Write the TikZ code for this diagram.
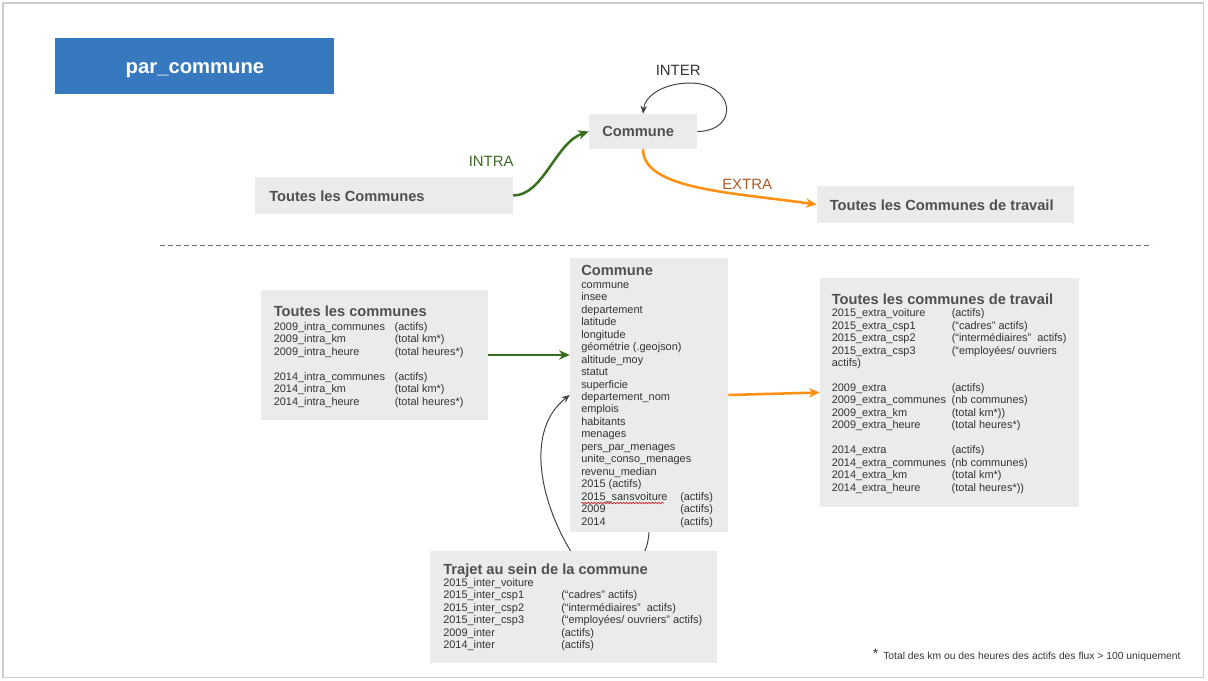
\documentclass[tikz,border=0pt]{standalone}
\usepackage{fontspec}
\setmainfont{Liberation Sans}
\usetikzlibrary{arrows.meta,fit,decorations.pathmorphing}
\definecolor{boxgray}{HTML}{EBEBEB}
\definecolor{bluebox}{HTML}{3779BE}
\definecolor{hdgray}{HTML}{505050}
\definecolor{txtgray}{HTML}{333333}
\definecolor{flowgreen}{HTML}{38701F}
\definecolor{floworange}{HTML}{FF9012}
\definecolor{extrabrown}{HTML}{A65A26}
\definecolor{intragreen}{HTML}{3D6B27}
\definecolor{loopgray}{HTML}{444444}
\newlength\colwd
\newcommand\twoc[2]{\makebox[\colwd][l]{#1}#2}
\begin{document}
\begin{tikzpicture}[x=0.75pt,y=-0.75pt,
  box/.style={fill=boxgray, draw=none, inner sep=0pt},
  hd/.style={font=\fontsize{11}{13}\selectfont\bfseries, text=hdgray, inner sep=0pt, anchor=base west},
  bd/.style={font=\fontsize{8.2}{9.35}\selectfont, text=txtgray, inner sep=0pt, anchor=base west},
  lbl/.style={font=\fontsize{11.2}{13}\selectfont, inner sep=0pt, anchor=base west},
  flow/.style={line width=1.9pt, -{Stealth[length=8pt,width=7pt,inset=2.5pt]}},
  thinloop/.style={line width=0.75pt, draw=loopgray, -{Stealth[length=6pt,width=5pt,inset=2pt]}},
]
\useasboundingbox (0,0) rectangle (1208,681);
% slide frame
\draw[gray!40, line width=0.8pt] (3,3) rectangle (1203.5,677.5);

% ---------- top part ----------
\node[box, fill=bluebox, fit={(55,38) (334,94)}] (title) {};
\node[font=\fontsize{15.2}{18}\selectfont\bfseries, text=white, inner sep=0pt, anchor=base] (titletxt) at (195,74) {par\_commune};

\node[box, fit={(589,114) (697,149)}] (comT) {};
\node[hd] (comTt) at (602,136.5) {Commune};
\node[box, fit={(255,177) (513,214)}] (allT) {};
\node[hd] (allTt) at (269,201.5) {Toutes les Communes};
\node[box, fit={(817,186) (1074,223)}] (travT) {};
\node[hd] (travTt) at (829.5,210.5) {Toutes les Communes de travail};

\node[lbl, text=intragreen] (intra) at (468.5,167) {INTRA};
\node[lbl, text=extrabrown] (extra) at (722,190) {EXTRA};
\node[lbl, text=txtgray] (inter) at (655.5,76) {INTER};

\draw[flow, flowgreen] (allT.east) .. controls +(30,0) and +(-33,11) .. (comT.west);
\draw[flow, floworange] (comT.south) .. controls +(0,40) and +(-85,-12) .. (travT.west);
\draw[thinloop] (comT.east) .. controls (740,131) and (735,83) .. (690,83)
   .. controls (665,83) and (645,95) .. (comT.north);

% dashed separator
\coordinate (dashL) at (160,246);
\coordinate (dashR) at (1152,246);
\draw[gray!80!black, line width=0.75pt, dash pattern=on 3.5pt off 2.5pt] (dashL) -- (dashR);

% ---------- bottom part ----------
\node[box, fit={(261,290) (488,420)}] (allB) {};
\node[hd] (allBh) at (273.5,317) {Toutes les communes};
\node[bd] (allBt) at (273.5,330.5) {\setlength\colwd{90.75pt}\begin{tabular}[t]{@{}l@{}}
\twoc{2009\_intra\_communes}{(actifs)}\\
\twoc{2009\_intra\_km}{(total km*)}\\
\twoc{2009\_intra\_heure}{(total heures*)}\\
\\
\twoc{2014\_intra\_communes}{(actifs)}\\
\twoc{2014\_intra\_km}{(total km*)}\\
\twoc{2014\_intra\_heure}{(total heures*)}
\end{tabular}};

\node[box, fit={(570,258) (728,532)}] (comB) {};
\node[hd] (comBh) at (581,275.5) {Commune};
\node[bd] (comBt) at (581,288.3) {\setlength\colwd{74.25pt}\begin{tabular}[t]{@{}l@{}}
commune\\
insee\\
departement\\
latitude\\
longitude\\
géométrie (.geojson)\\
altitude\_moy\\
statut\\
superficie\\
departement\_nom\\
emplois\\
habitants\\
menages\\
pers\_par\_menages\\
unite\_conso\_menages\\
revenu\_median\\
2015 (actifs)\\
\twoc{2015\_sansvoiture}{(actifs)}\\
\twoc{2009}{(actifs)}\\
\twoc{2014}{(actifs)}
\end{tabular}};
\coordinate (sqL) at (581,503);
\coordinate (sqR) at (664,503);
\draw[red!85!black, line width=0.4pt, decorate, decoration={snake, amplitude=0.6pt, segment length=2.4pt}] (sqL) -- (sqR);

\node[box, fit={(820,278) (1079,507)}] (travB) {};
\node[hd] (travBh) at (831.5,304.3) {Toutes les communes de travail};
\node[bd] (travBt) at (831.5,316.7) {\setlength\colwd{90pt}\begin{tabular}[t]{@{}l@{}}
\twoc{2015\_extra\_voiture}{(actifs)}\\
\twoc{2015\_extra\_csp1}{(“cadres” actifs)}\\
\twoc{2015\_extra\_csp2}{(“intermédiaires”\ \ actifs)}\\
\twoc{2015\_extra\_csp3}{(“employées/ ouvriers}\\
actifs)\\
\\
\twoc{2009\_extra}{(actifs)}\\
\twoc{2009\_extra\_communes}{(nb communes)}\\
\twoc{2009\_extra\_km}{(total km*))}\\
\twoc{2009\_extra\_heure}{(total heures*)}\\
\\
\twoc{2014\_extra}{(actifs)}\\
\twoc{2014\_extra\_communes}{(nb communes)}\\
\twoc{2014\_extra\_km}{(total km*)}\\
\twoc{2014\_extra\_heure}{(total heures*))}
\end{tabular}};

\draw[flow, flowgreen] (allB.east) -- (allB.east -| comB.west);
\draw[flow, floworange] (comB.east) -- (travB.west);
\draw[thinloop] (comB.south) .. controls (646,585) and (588,580) .. (570,550)
   .. controls (540,500) and (525,430) .. (comB.west);

\node[box, fit={(430,551) (717,663)}] (trajet) {};
\node[hd] (trajeth) at (443,574.5) {Trajet au sein de la commune};
\node[bd] (trajett) at (443,586.5) {\setlength\colwd{88.5pt}\begin{tabular}[t]{@{}l@{}}
2015\_inter\_voiture\\
\twoc{2015\_inter\_csp1}{(“cadres” actifs)}\\
\twoc{2015\_inter\_csp2}{(“intermédiaires”\ \ actifs)}\\
\twoc{2015\_inter\_csp3}{(“employées/ ouvriers” actifs)}\\
\twoc{2009\_inter}{(actifs)}\\
\twoc{2014\_inter}{(actifs)}
\end{tabular}};

% footnote
\node[font=\fontsize{10.5}{12}\selectfont, text=txtgray, inner sep=0pt, anchor=base west] (star) at (872.5,658) {*};
\node[font=\fontsize{7.75}{9}\selectfont, text=txtgray, inner sep=0pt, anchor=base west] (foot) at (883,659) {Total des km ou des heures des actifs des flux > 100 uniquement};
\end{tikzpicture}
\end{document}
